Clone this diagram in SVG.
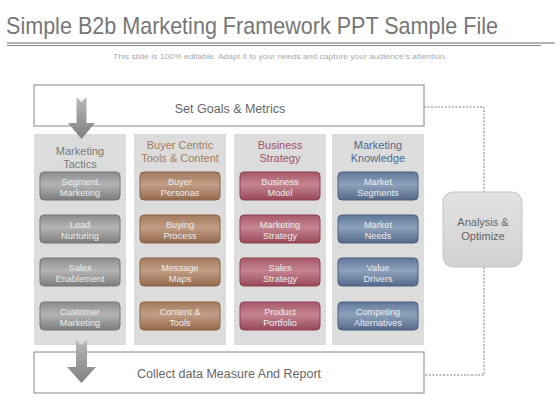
<svg xmlns="http://www.w3.org/2000/svg" width="560" height="420" viewBox="0 0 560 420">
<defs>
<linearGradient id="gGray" x1="0" y1="0" x2="0" y2="1">
<stop offset="0" stop-color="#8c8c8c"/><stop offset="0.45" stop-color="#b4b4b4"/><stop offset="1" stop-color="#7c7c7c"/>
</linearGradient>
<linearGradient id="gBrown" x1="0" y1="0" x2="0" y2="1">
<stop offset="0" stop-color="#a27a5e"/><stop offset="0.45" stop-color="#c29e84"/><stop offset="1" stop-color="#93694d"/>
</linearGradient>
<linearGradient id="gRed" x1="0" y1="0" x2="0" y2="1">
<stop offset="0" stop-color="#a85868"/><stop offset="0.45" stop-color="#c58590"/><stop offset="1" stop-color="#984858"/>
</linearGradient>
<linearGradient id="gBlue" x1="0" y1="0" x2="0" y2="1">
<stop offset="0" stop-color="#60789a"/><stop offset="0.45" stop-color="#8ea2bc"/><stop offset="1" stop-color="#54698a"/>
</linearGradient>
<linearGradient id="gArrow" x1="0" y1="0" x2="0" y2="1">
<stop offset="0" stop-color="#b8b8b8"/><stop offset="1" stop-color="#808080"/>
</linearGradient>
<linearGradient id="gBox" x1="0" y1="0" x2="0" y2="1">
<stop offset="0" stop-color="#e2e2e2"/><stop offset="1" stop-color="#d2d2d2"/>
</linearGradient>
</defs>
<style>
text{font-family:"Liberation Sans",Arial,sans-serif;text-anchor:middle}
.panel{fill:#dcdcdc}
.bar{fill:#ffffff;stroke:#9a9a9a;stroke-width:1.2}
.btn{stroke-width:1}
.bt{font-size:9.2px;fill:#ececec}
.hd{font-size:11px}
.dash{fill:none;stroke:#707070;stroke-width:0.9;stroke-dasharray:2,1.5}
</style>
<rect width="560" height="420" fill="#ffffff"/>
<g id="title">
<text x="6" y="34" style="text-anchor:start;font-size:24px;fill:#767676" textLength="492" lengthAdjust="spacingAndGlyphs">Simple B2b Marketing Framework PPT Sample File</text>
<line x1="7" y1="43" x2="555" y2="43" stroke="#666" stroke-width="1"/>
<line x1="7" y1="45.5" x2="541" y2="45.5" stroke="#888" stroke-width="1"/>
<text x="280" y="59" style="font-size:7.5px;fill:#aaaaaa" textLength="334" lengthAdjust="spacingAndGlyphs">This slide is 100% editable. Adapt it to your needs and capture your audience's attention.</text>
</g>
<g id="connectors">
<polyline class="dash" points="424,107 484,107 484,192"/>
<polyline class="dash" points="484,267 484,375 424,375"/>
</g>
<g id="set-goals">
<rect class="bar" x="34" y="85" width="390" height="41"/>
<text x="230" y="113" style="font-size:12.5px;fill:#666">Set Goals &amp; Metrics</text>
</g>
<g id="col-tactics">
<rect class="panel" x="34" y="134" width="92" height="211"/>
<text class="hd" x="80" y="155" fill="#7a7a7a">Marketing</text>
<text class="hd" x="80" y="168" fill="#7a7a7a">Tactics</text>
<g fill="url(#gGray)" stroke="#777">
<rect class="btn" x="40" y="172" width="80" height="28" rx="4"/>
<rect class="btn" x="40" y="215" width="80" height="28" rx="4"/>
<rect class="btn" x="40" y="258" width="80" height="28" rx="4"/>
<rect class="btn" x="40" y="302" width="80" height="28" rx="4"/>
</g>
<text class="bt" x="80" y="185">Segment</text><text class="bt" x="80" y="196">Marketing</text>
<text class="bt" x="80" y="228">Lead</text><text class="bt" x="80" y="239">Nurturing</text>
<text class="bt" x="80" y="271">Sales</text><text class="bt" x="80" y="282">Enablement</text>
<text class="bt" x="80" y="315">Customer</text><text class="bt" x="80" y="326">Marketing</text>
</g>
<g id="col-buyer">
<rect class="panel" x="134" y="134" width="92" height="211"/>
<text class="hd" x="180" y="149" fill="#a27c5e">Buyer Centric</text>
<text class="hd" x="180" y="162" fill="#a27c5e">Tools &amp; Content</text>
<g fill="url(#gBrown)" stroke="#8a6248">
<rect class="btn" x="140" y="172" width="80" height="28" rx="4"/>
<rect class="btn" x="140" y="215" width="80" height="28" rx="4"/>
<rect class="btn" x="140" y="258" width="80" height="28" rx="4"/>
<rect class="btn" x="140" y="302" width="80" height="28" rx="4"/>
</g>
<text class="bt" x="180" y="185">Buyer</text><text class="bt" x="180" y="196">Personas</text>
<text class="bt" x="180" y="228">Buying</text><text class="bt" x="180" y="239">Process</text>
<text class="bt" x="180" y="271">Message</text><text class="bt" x="180" y="282">Maps</text>
<text class="bt" x="180" y="315">Content &amp;</text><text class="bt" x="180" y="326">Tools</text>
</g>
<g id="col-business">
<rect class="panel" x="234" y="134" width="92" height="211"/>
<text class="hd" x="280" y="149" fill="#a4505f">Business</text>
<text class="hd" x="280" y="162" fill="#a4505f">Strategy</text>
<g fill="url(#gRed)" stroke="#8c4050">
<rect class="btn" x="240" y="172" width="80" height="28" rx="4"/>
<rect class="btn" x="240" y="215" width="80" height="28" rx="4"/>
<rect class="btn" x="240" y="258" width="80" height="28" rx="4"/>
<rect class="btn" x="240" y="302" width="80" height="28" rx="4"/>
</g>
<text class="bt" x="280" y="185">Business</text><text class="bt" x="280" y="196">Model</text>
<text class="bt" x="280" y="228">Marketing</text><text class="bt" x="280" y="239">Strategy</text>
<text class="bt" x="280" y="271">Sales</text><text class="bt" x="280" y="282">Strategy</text>
<text class="bt" x="280" y="315">Product</text><text class="bt" x="280" y="326">Portfolio</text>
</g>
<g id="col-knowledge">
<rect class="panel" x="332" y="134" width="92" height="211"/>
<text class="hd" x="378" y="149" fill="#50698c">Marketing</text>
<text class="hd" x="378" y="162" fill="#50698c">Knowledge</text>
<g fill="url(#gBlue)" stroke="#4a5e7c">
<rect class="btn" x="338" y="172" width="80" height="28" rx="4"/>
<rect class="btn" x="338" y="215" width="80" height="28" rx="4"/>
<rect class="btn" x="338" y="258" width="80" height="28" rx="4"/>
<rect class="btn" x="338" y="302" width="80" height="28" rx="4"/>
</g>
<text class="bt" x="378" y="185">Market</text><text class="bt" x="378" y="196">Segments</text>
<text class="bt" x="378" y="228">Market</text><text class="bt" x="378" y="239">Needs</text>
<text class="bt" x="378" y="271">Value</text><text class="bt" x="378" y="282">Drivers</text>
<text class="bt" x="378" y="315">Competing</text><text class="bt" x="378" y="326">Alternatives</text>
</g>
<g id="collect-data">
<rect class="bar" x="34" y="352" width="390" height="41"/>
<text x="229" y="378" style="font-size:12.5px;fill:#666">Collect data Measure And Report</text>
</g>
<g id="analysis">
<rect x="443" y="192" width="79" height="75" rx="10" fill="url(#gBox)" stroke="#c4c4c4" stroke-width="1"/>
<text x="483" y="226" style="font-size:11px;fill:#666">Analysis &amp;</text>
<text x="483" y="240" style="font-size:11px;fill:#666">Optimize</text>
</g>
<g id="arrow-top">
<path d="M76.5,97 L81.5,102 L86.5,97 L86.5,123 L95,123 L81.5,139 L68,123 L76.5,123 Z" fill="url(#gArrow)"/>
</g>
<g id="arrow-bottom">
<path d="M76,340 L81.5,345 L87,340 L87,367 L96,367 L81.5,383 L67,367 L76,367 Z" fill="url(#gArrow)"/>
</g>
</svg>
